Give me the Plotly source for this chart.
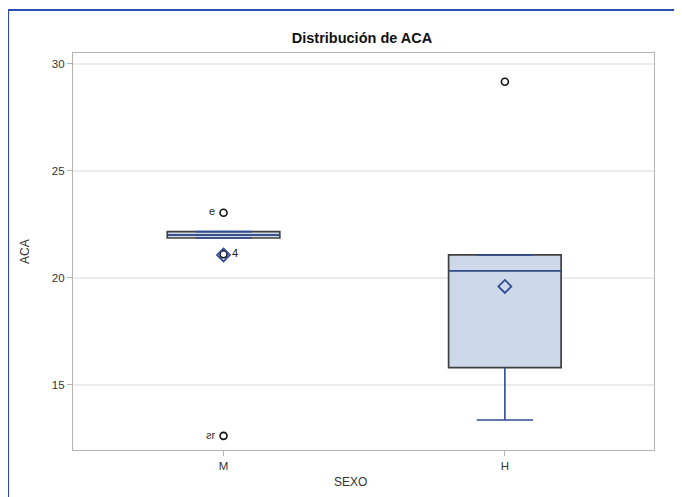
import plotly.graph_objects as go

# ---- data ----
categories = ["M", "H"]
q1 = [21.86, 15.81]
median = [22.0, 20.33]
q3 = [22.16, 21.07]
lower_whisker = [21.86, 13.36]
upper_whisker = [22.16, 21.07]
means = [21.07, 19.6]

outlier_cat = ["M", "M", "M", "H"]
outlier_val = [23.04, 21.1, 12.62, 29.16]
outlier_label = ["e ", " 4", "ƨr ", ""]
outlier_textpos = ["middle left", "middle right", "middle left", "middle right"]

y_ticks = [15, 20, 25, 30]

# ---- style ----
BOX_W = 0.4
CAP_W = 0.2
FILL = "#cdd8e9"
BOX_LINE = "#404040"
BLUE = "#2f4b95"
FONT = "Liberation Sans, Arial, sans-serif"
W, H = 674, 489
ML, MR, MT, MB = 65, 28, 45, 47
PW, PH = W - ML - MR, H - MT - MB

xpos = list(range(len(categories)))
cat_idx = {c: i for i, c in enumerate(categories)}

fig = go.Figure()

for i, c in enumerate(categories):
    fig.add_trace(go.Box(
        x=[xpos[i]], q1=[q1[i]], median=[median[i]], q3=[q3[i]],
        lowerfence=[q1[i]], upperfence=[q3[i]],
        width=BOX_W, fillcolor=FILL,
        line=dict(color=BOX_LINE, width=1.7),
        boxpoints=False, showlegend=False, hoverinfo="skip",
    ))

# median lines and whiskers (blue)
wx, wy = [], []
for i in xpos:
    wx += [i - BOX_W / 2, i + BOX_W / 2, None]
    wy += [median[i], median[i], None]
    if lower_whisker[i] < q1[i]:
        wx += [i, i, None]
        wy += [q1[i], lower_whisker[i], None]
    wx += [i - CAP_W / 2, i + CAP_W / 2, None]
    wy += [lower_whisker[i], lower_whisker[i], None]
    if upper_whisker[i] > q3[i]:
        wx += [i, i, None]
        wy += [q3[i], upper_whisker[i], None]
    wx += [i - CAP_W / 2, i + CAP_W / 2, None]
    wy += [upper_whisker[i], upper_whisker[i], None]

fig.add_trace(go.Scatter(x=wx, y=wy, mode="lines",
                         line=dict(color=BLUE, width=1.6),
                         showlegend=False, hoverinfo="skip"))

# outliers
fig.add_trace(go.Scatter(
    x=[cat_idx[c] for c in outlier_cat], y=outlier_val,
    mode="markers+text", text=outlier_label, textposition=outlier_textpos,
    textfont=dict(family=FONT, size=11, color="#222222"),
    marker=dict(symbol="circle-open", size=7, color="#111111",
                line=dict(width=1.6)),
    showlegend=False, hoverinfo="skip",
))

# means
fig.add_trace(go.Scatter(
    x=xpos, y=means, mode="markers",
    marker=dict(symbol="diamond-open", size=10, color=BLUE,
                line=dict(width=1.8)),
    showlegend=False, hoverinfo="skip",
))

fig.update_layout(
    width=W, height=H,
    margin=dict(l=ML, r=MR, t=MT, b=MB),
    paper_bgcolor="white", plot_bgcolor="white",
    font=dict(family=FONT, size=11.5, color="#333333"),
    title=dict(text="<b>Distribución de ACA</b>", x=354 / W, xanchor="center",
               y=1 - 30 / H, yanchor="middle",
               font=dict(family=FONT, size=14.5, color="#111111")),
    xaxis=dict(
        range=[-0.535, 1.53], tickvals=xpos, ticktext=categories,
        showgrid=False, zeroline=False,
        showline=True, linecolor="#b4b4b4", linewidth=1.3, mirror=True,
        ticks="outside", ticklen=5, tickcolor="#b4b4b4",
        tickfont=dict(family=FONT, size=11.5, color="#333333"),
    ),
    yaxis=dict(
        range=[11.96, 30.5], tickvals=y_ticks,
        showgrid=True, gridcolor="#ececec", gridwidth=1.5, zeroline=False,
        showline=True, linecolor="#b4b4b4", linewidth=1.3, mirror=True,
        ticks="outside", ticklen=5, tickcolor="#b4b4b4",
        tickfont=dict(family=FONT, size=11.5, color="#333333"),
    ),
)

# axis titles
fig.add_annotation(text="SEXO", xref="paper", yref="paper",
                   x=(342 - ML) / PW, y=(MT + PH - 474) / PH,
                   xanchor="center", yanchor="middle", showarrow=False,
                   font=dict(family=FONT, size=12, color="#333333"))
fig.add_annotation(text="ACA", xref="paper", yref="paper", textangle=-90,
                   x=(17 - ML) / PW, y=(MT + PH - 243) / PH,
                   xanchor="center", yanchor="middle", showarrow=False,
                   font=dict(family=FONT, size=12, color="#333333"))

# decorative blue frame (left and top edges)
fx = (0 - ML) / PW
fy_top = (MT + PH - 2) / PH
fy_bot = (MT + PH - H - 5) / PH
fx_right = (W + 5 - ML) / PW
fig.add_shape(type="line", xref="paper", yref="paper",
              x0=fx, x1=fx, y0=fy_bot, y1=fy_top,
              line=dict(color="#2a4fae", width=2.2))
fig.add_shape(type="line", xref="paper", yref="paper",
              x0=fx, x1=fx_right, y0=fy_top, y1=fy_top,
              line=dict(color="#2a4fae", width=2.2))

fig.write_html("out.html")
